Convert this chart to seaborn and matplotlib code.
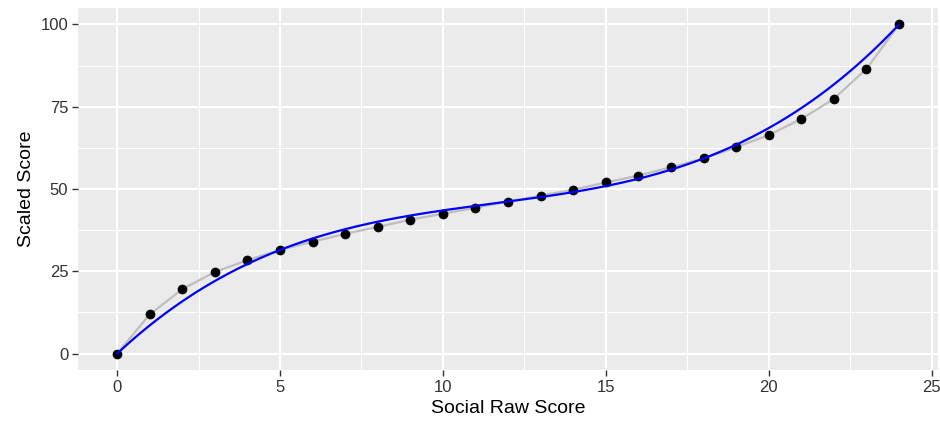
import numpy as np
import pandas as pd
import matplotlib
matplotlib.use("Agg")
import matplotlib.pyplot as plt
import seaborn as sns
from matplotlib.ticker import MultipleLocator

raw_score = list(range(0, 25))
scaled_score = [0, 11.9, 19.6, 24.8, 28.4, 31.5, 34.0, 36.4, 38.5, 40.7, 42.5,
                44.3, 46.2, 48.0, 49.8, 52.0, 54.1, 56.6, 59.3, 62.7, 66.4,
                71.3, 77.4, 86.5, 100]
x_ticks = [0, 5, 10, 15, 20, 25]
y_ticks = [0, 25, 50, 75, 100]

df = pd.DataFrame({"raw": raw_score, "scaled": scaled_score})

# robust (L1, via IRLS) cubic fit constrained to pass through both end points
x = np.asarray(raw_score, float)
y = np.asarray(scaled_score, float)
x0, x1 = x.min(), x.max()
y0, y1 = y[0], y[-1]
t = (x - x0) / (x1 - x0)
resid = y - (y0 + (y1 - y0) * t)
A = np.column_stack([t * (1 - t), t * t * (1 - t)])
w = np.ones_like(resid)
for _ in range(200):
    sw = np.sqrt(w)
    coef, *_ = np.linalg.lstsq(A * sw[:, None], resid * sw, rcond=None)
    w = 1.0 / np.maximum(np.abs(resid - A @ coef), 1e-3)
xf = np.linspace(x0, x1, 300)
tf = (xf - x0) / (x1 - x0)
yf = y0 + (y1 - y0) * tf + coef[0] * tf * (1 - tf) + coef[1] * tf * tf * (1 - tf)
fit = pd.DataFrame({"raw": xf, "scaled": yf})

sns.set_theme(style="darkgrid")
plt.rcParams['font.family'] = ['Liberation Sans', 'DejaVu Sans']

fig = plt.figure(figsize=(9.4, 4.22), dpi=100)
ax = fig.add_axes([0.083, 0.123, 0.915, 0.858])
ax.set_facecolor("#EBEBEB")

sns.lineplot(data=df, x="raw", y="scaled", color="#BEBEBE", linewidth=1.6, ax=ax, zorder=2)
sns.scatterplot(data=df, x="raw", y="scaled", color="black", s=42, edgecolor="black", ax=ax, zorder=3)
sns.lineplot(data=fit, x="raw", y="scaled", color="#0000FF", linewidth=1.6, ax=ax, zorder=4)

ax.set_xlim(-1.2, 25.2)
ax.set_ylim(-5, 105)
ax.set_xticks(x_ticks)
ax.set_yticks(y_ticks)
ax.xaxis.set_minor_locator(MultipleLocator(2.5))
ax.yaxis.set_minor_locator(MultipleLocator(12.5))
ax.grid(which="major", color="white", linewidth=1.5)
ax.grid(which="minor", color="white", linewidth=0.7)
for s in ax.spines.values():
    s.set_visible(False)
ax.tick_params(axis="both", which="major", length=4, width=1, color="#333333",
               labelsize=12, labelcolor="#333333", pad=3, direction="out")
ax.tick_params(axis="both", which="minor", length=0)
ax.tick_params(bottom=True, left=True)
ax.set_xlabel("Social Raw Score", fontsize=14, color="black")
ax.set_ylabel("Scaled Score", fontsize=14, color="black")

fig.savefig("out.png", dpi=100)
